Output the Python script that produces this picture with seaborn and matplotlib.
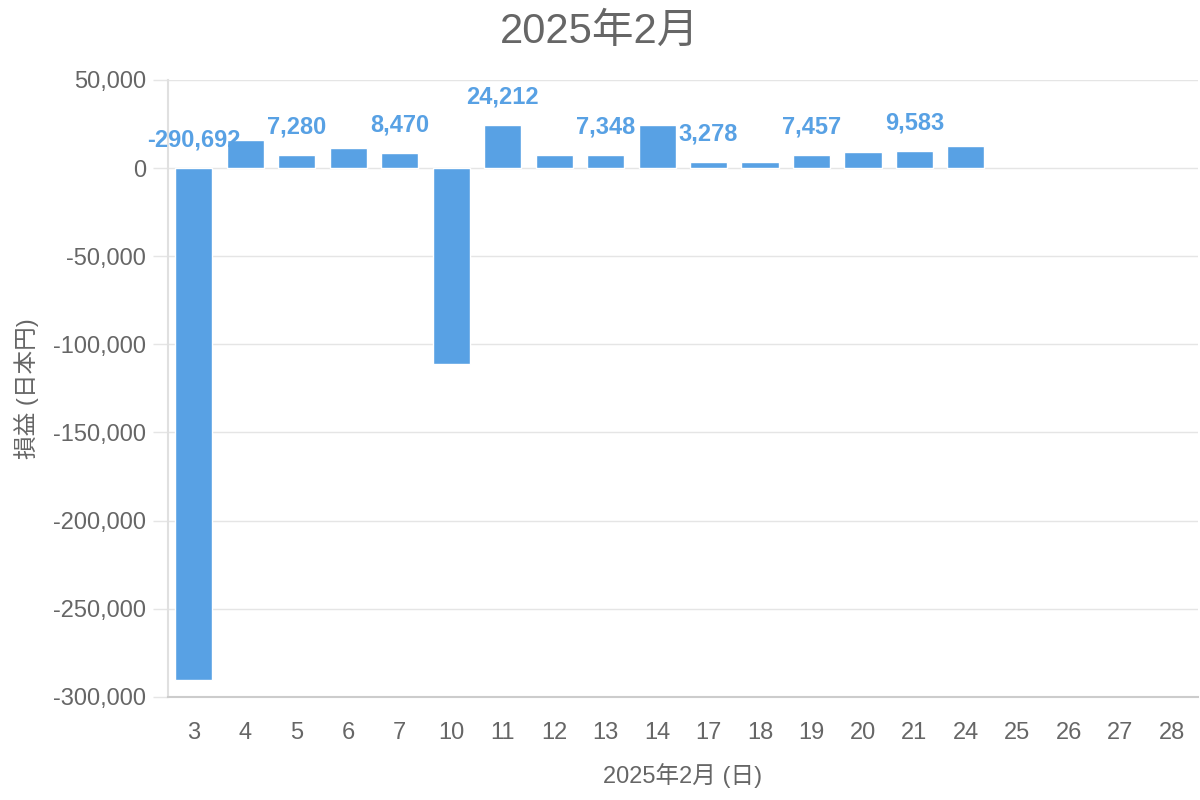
"""Daily P&L bar chart for Feb 2025."""

import matplotlib
matplotlib.use("Agg")
import matplotlib.pyplot as plt
from matplotlib.ticker import FuncFormatter, MultipleLocator
import seaborn as sns
import pandas as pd

# trading days shown on the axis (25-28 have no data yet)
all_days = ["3", "4", "5", "6", "7", "10", "11", "12", "13", "14",
            "17", "18", "19", "20", "21", "24", "25", "26", "27", "28"]
data_days = ["3", "4", "5", "6", "7", "10", "11", "12", "13", "14",
             "17", "18", "19", "20", "21", "24"]
pnl = [-290692, 15700, 7280, 11400, 8470, -111400, 24212, 7200, 7348, 24600,
       3278, 3600, 7457, 9300, 9583, 12700]

BAR = "#58a1e4"
GREY = "#666666"

sns.set_theme(style="white")
plt.rcParams["font.family"] = ["Liberation Sans", "Noto Sans CJK JP", "DejaVu Sans"]

df = pd.DataFrame({"day": data_days, "pnl": pnl})

fig, ax = plt.subplots(figsize=(12, 8), dpi=100)
fig.subplots_adjust(left=0.14, right=0.998, top=0.9, bottom=0.129)

sns.barplot(data=df, x="day", y="pnl", order=all_days, color=BAR,
            saturation=1, width=0.72, ax=ax)

ax.set_ylim(-300000, 50000)
ax.set_xlim(-0.5, len(all_days) - 0.5)
ax.yaxis.set_major_locator(MultipleLocator(50000))
ax.yaxis.set_major_formatter(FuncFormatter(lambda v, _: f"{int(v):,}"))
ax.grid(axis="y", color="#e5e5e5", linewidth=1.0)
ax.set_axisbelow(True)

for side in ["top", "right"]:
    ax.spines[side].set_visible(False)
ax.spines["left"].set_color("#e0e0e0")
ax.spines["bottom"].set_color("#cccccc")
ax.spines["left"].set_linewidth(1.5)
ax.spines["bottom"].set_linewidth(1.5)

ax.tick_params(axis="y", length=11, width=1.0, color="#e5e5e5", pad=5,
               labelsize=17, labelcolor=GREY, left=True)
ax.tick_params(axis="x", length=0, pad=18, labelsize=17, labelcolor=GREY)

# value labels on every other bar
for i, (d, v) in enumerate(zip(data_days, pnl)):
    if i % 2:
        continue
    x = all_days.index(d)
    ax.annotate(f"{v:,}", xy=(x, max(v, 0)), xytext=(0, 12),
                textcoords="offset points", ha="center", va="bottom",
                fontsize=17, fontweight="bold", color=BAR)

fig.suptitle("2025年2月", fontsize=30, color=GREY, x=0.5, y=0.985, va="top")
ax.set_xlabel("2025年2月 (日)", fontsize=17, color=GREY, labelpad=14)
ax.set_ylabel("損益 (日本円)", fontsize=17, color=GREY, labelpad=10)

fig.savefig("out.png", dpi=100)
